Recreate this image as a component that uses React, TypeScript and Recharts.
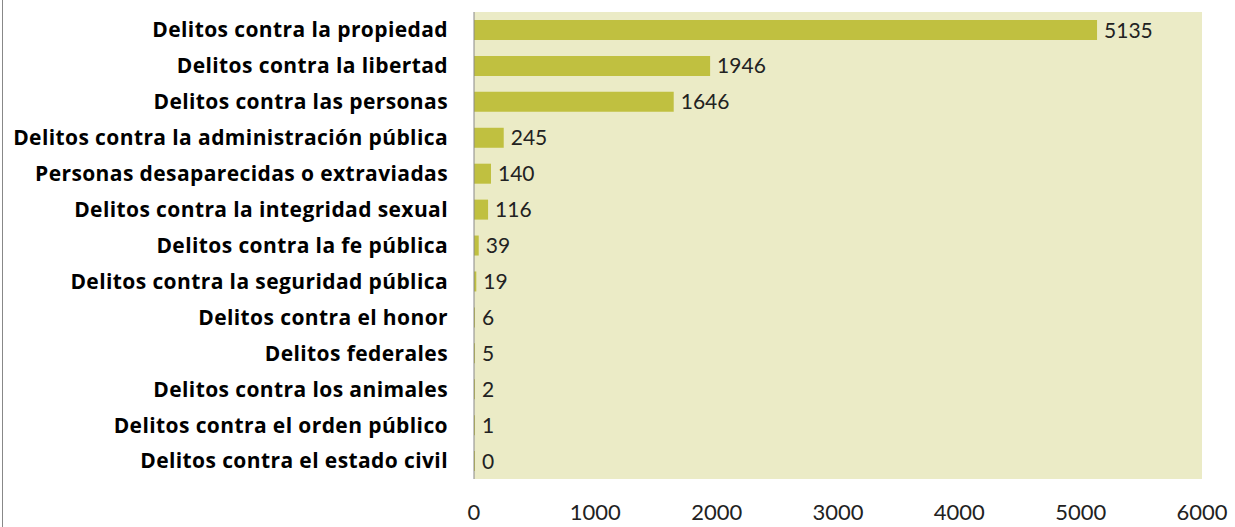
import React from "react";
import { BarChart, Bar, XAxis, YAxis, CartesianGrid, LabelList } from "recharts";

const categories = [
  "Delitos contra la propiedad",
  "Delitos contra la libertad",
  "Delitos contra las personas",
  "Delitos contra la administración pública",
  "Personas desaparecidas o extraviadas",
  "Delitos contra la integridad sexual",
  "Delitos contra la fe pública",
  "Delitos contra la seguridad pública",
  "Delitos contra el honor",
  "Delitos federales",
  "Delitos contra los animales",
  "Delitos contra el orden público",
  "Delitos contra el estado civil",
];
const values = [5135, 1946, 1646, 245, 140, 116, 39, 19, 6, 5, 2, 1, 0];
const xTicks = [0, 1000, 2000, 3000, 4000, 5000, 6000];

const data = categories.map((name, i) => ({ name, value: values[i] }));

const FONT = "Lato, 'Open Sans', sans-serif";
const LABEL_FONT = "'Open Sans', Lato, sans-serif";

const ValueLabel = (props: any) => {
  const { x, y, width, height, value } = props;
  return (
    <text
      x={Number(x) + Number(width) + 7}
      y={Number(y) + Number(height) / 2}
      dy="0.36em"
      fill="#222"
      fontSize={21}
      fontFamily={FONT}
      textAnchor="start"
    >
      {value}
    </text>
  );
};

export default function App() {
  return (
    <div style={{ position: "absolute", left: 0, top: 0, width: 1235, height: 527, background: "#fff" }}>
      <div style={{ position: "absolute", left: 2, top: 0, width: 0, height: 527, borderLeft: "1px solid #888" }} />
      <BarChart
        width={1235}
        height={527}
        data={data}
        layout="vertical"
        margin={{ top: 12, right: 33, bottom: 0, left: 0 }}
        barCategoryGap={8}
      >
        <CartesianGrid fill="#EBEBC6" stroke="none" horizontal={false} vertical={false} />
        <XAxis
          type="number"
          domain={[0, 6000]}
          ticks={xTicks}
          axisLine={false}
          tickLine={false}
          tickSize={0}
          tickMargin={25}
          height={48}
          interval={0}
          tick={{ fill: "#222", fontSize: 22, fontFamily: FONT }}
        />
        <YAxis
          type="category"
          dataKey="name"
          width={474}
          axisLine={{ stroke: "#888", strokeWidth: 1 }}
          tickLine={false}
          tickSize={0}
          tickMargin={26}
          interval={0}
          tick={{ fill: "#000", fontSize: 21, fontWeight: 700, fontFamily: LABEL_FONT, letterSpacing: 0.4 }}
        />
        <Bar dataKey="value" fill="#C0C040" barSize={20} minPointSize={1} isAnimationActive={false}>
          <LabelList dataKey="value" content={ValueLabel} />
        </Bar>
      </BarChart>
    </div>
  );
}
